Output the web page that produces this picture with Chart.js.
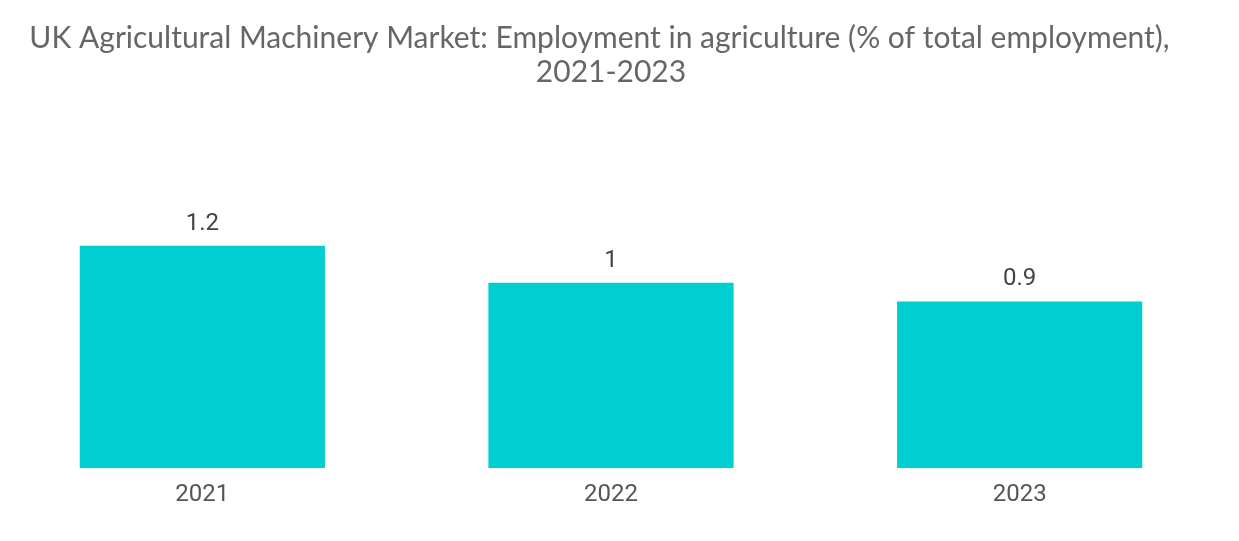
<!DOCTYPE html>
<html>
<head>
<meta charset="utf-8">
<script src="https://cdn.jsdelivr.net/npm/chart.js@4/dist/chart.umd.min.js"></script>
<style>
  html, body { margin: 0; padding: 0; background: #fff; overflow: hidden; }
  #wrap { position: absolute; left: -2px; top: 0; width: 1226px; height: 541px; }
</style>
</head>
<body>
<div id="wrap"><canvas id="chart"></canvas></div>
<script>
// ---- data ----
const years = ['2021', '2022', '2023'];
const employmentShare = [1.2, 1, 0.9];
const titleLines = [
  'UK Agricultural Machinery Market: Employment in agriculture (% of total employment),   ',
  '2021-2023'
];

// draw value labels above bars
const valueLabels = {
  id: 'valueLabels',
  afterDatasetsDraw(chart) {
    const ctx = chart.ctx;
    const meta = chart.getDatasetMeta(0);
    ctx.save();
    ctx.font = '24px Roboto';
    ctx.fillStyle = '#444';
    ctx.textAlign = 'center';
    ctx.textBaseline = 'bottom';
    meta.data.forEach((bar, i) => {
      ctx.fillText(String(employmentShare[i]), bar.x, bar.y - 10);
    });
    ctx.restore();
  }
};

new Chart(document.getElementById('chart'), {
  type: 'bar',
  data: {
    labels: years,
    datasets: [{
      data: employmentShare,
      backgroundColor: '#00ced1',
      barPercentage: 0.6,
      categoryPercentage: 1
    }]
  },
  options: {
    responsive: true,
    maintainAspectRatio: false,
    animation: false,
    layout: { padding: { left: 0, right: 0, top: 0, bottom: 28 } },
    plugins: {
      legend: { display: false },
      tooltip: { enabled: false },
      title: {
        display: true,
        text: titleLines,
        color: '#666',
        font: { family: 'Lato', size: 30, weight: 'normal', lineHeight: 1.12 },
        padding: { top: 22, bottom: 101 }
      }
    },
    scales: {
      y: {
        display: false,
        min: 0,
        max: 1.5
      },
      x: {
        grid: { display: false },
        border: { display: false },
        ticks: {
          color: '#555',
          font: { family: 'Roboto', size: 24 },
          padding: 4
        }
      }
    }
  },
  plugins: [valueLabels]
});
</script>
</body>
</html>
